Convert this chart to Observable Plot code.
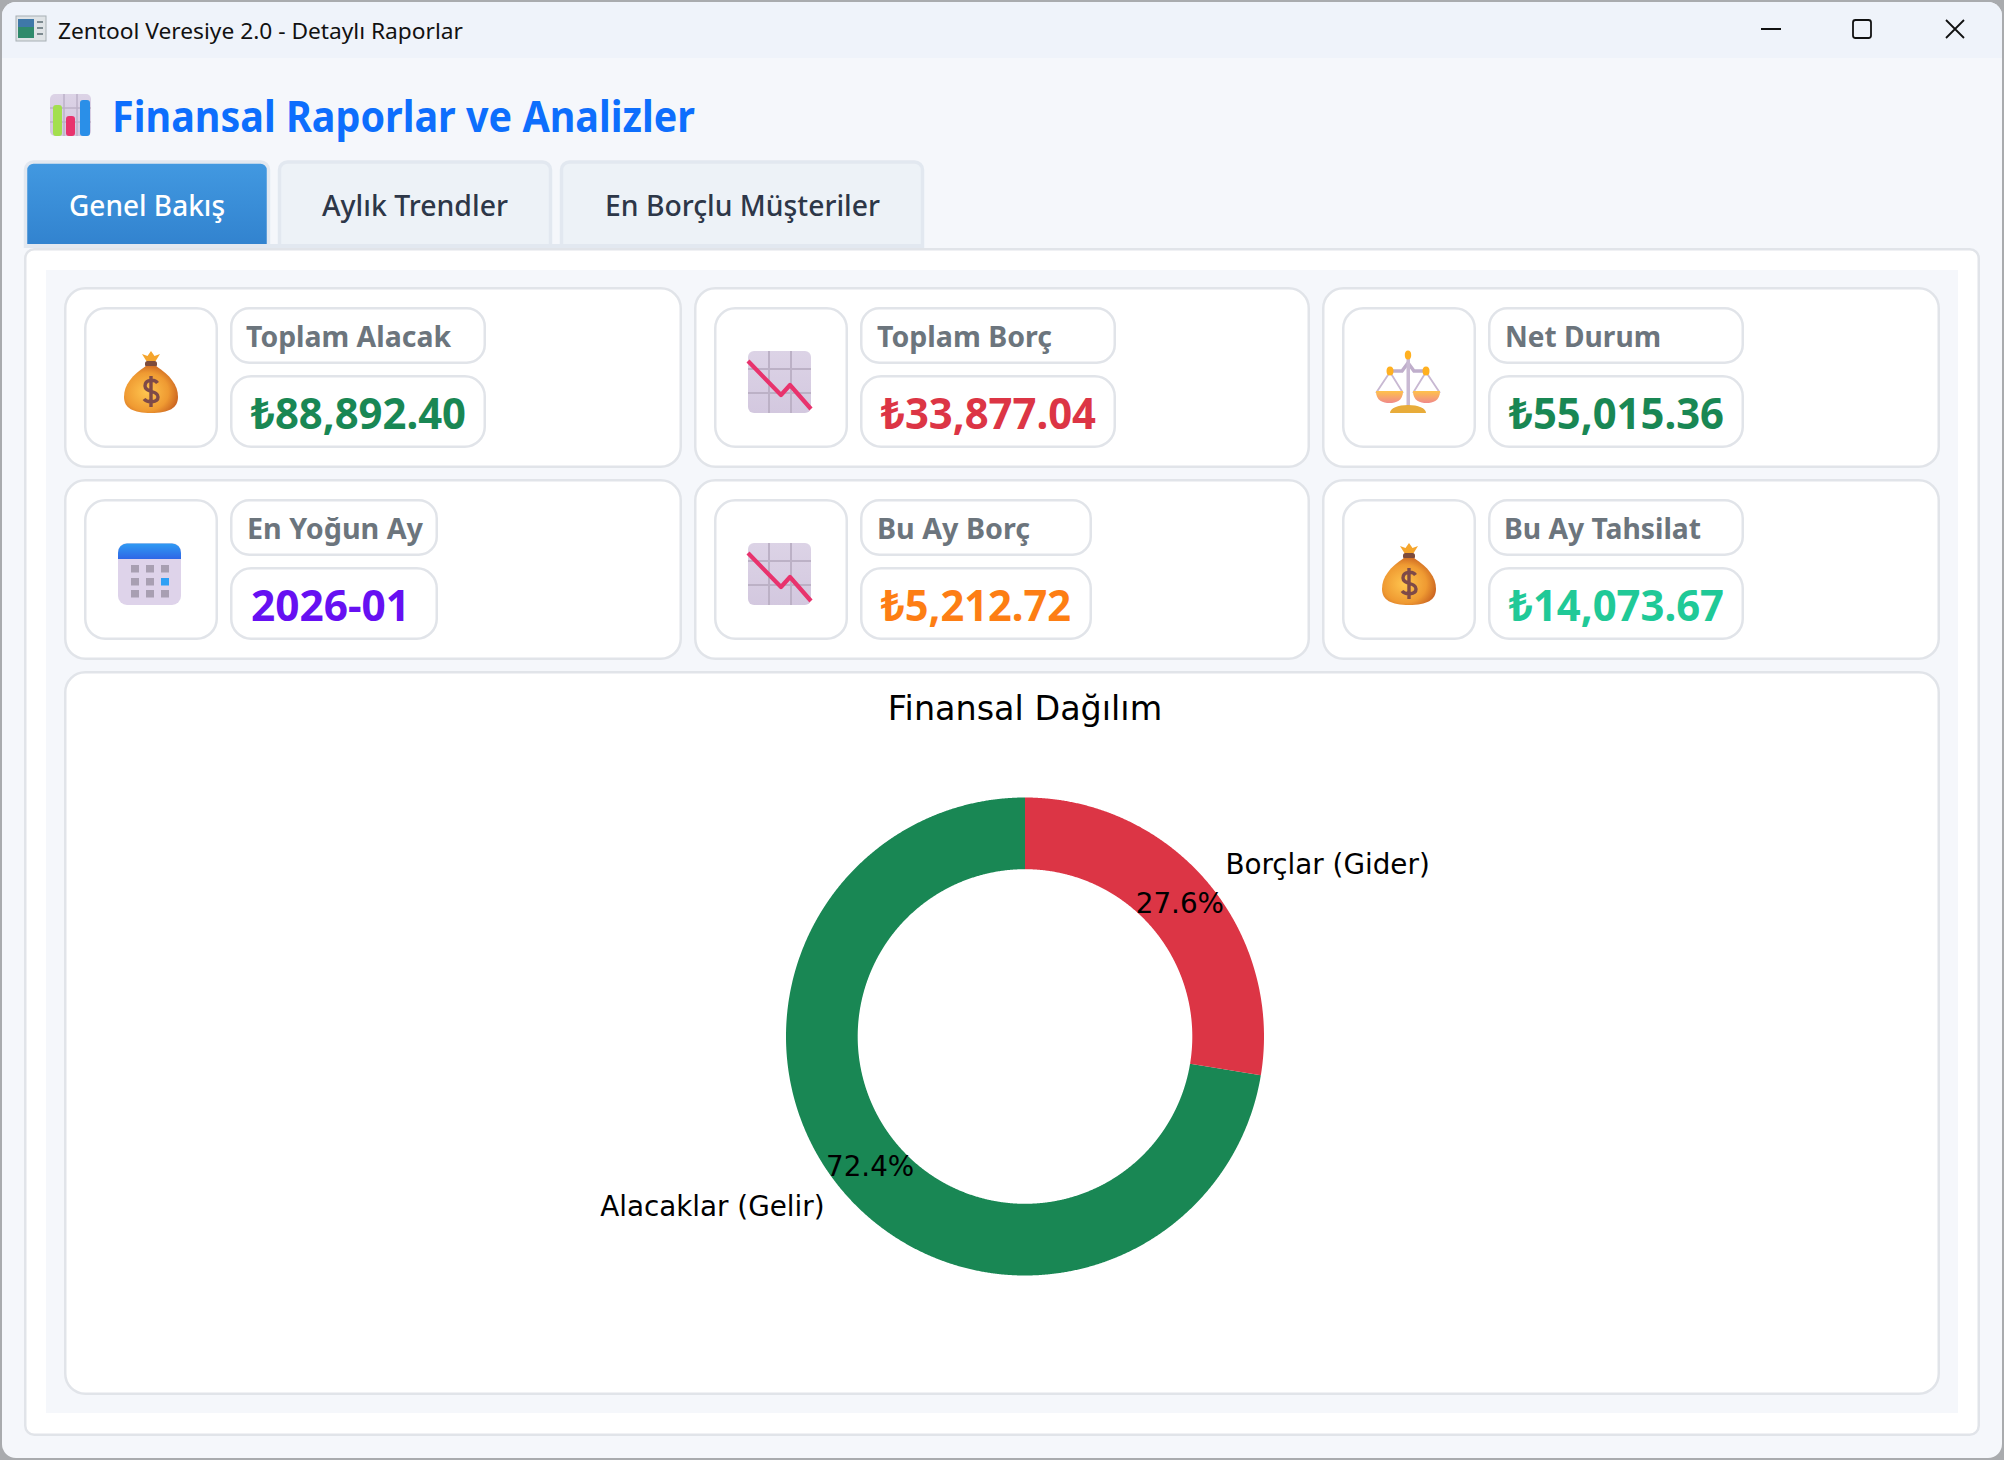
<!DOCTYPE html>
<html lang="tr">
<head>
<meta charset="utf-8">
<title>Zentool Veresiye 2.0 - Detaylı Raporlar</title>
<script src="https://cdn.jsdelivr.net/npm/d3@7"></script>
<script src="https://cdn.jsdelivr.net/npm/@observablehq/plot@0.6"></script>
<style>
html,body{margin:0;padding:0;width:2004px;height:1460px;overflow:hidden;background:#a9abae}
#page{position:absolute;left:0;top:0;width:2004px;height:1460px}
#chart{position:absolute;left:65px;top:672px}
#chart svg{display:block;background:transparent;max-width:none}
#page text{font-family:"Noto Sans",sans-serif}
#chart text{font-family:"DejaVu Sans",sans-serif}
</style>
</head>
<body>
<div id="page"></div>
<div id="chart"></div>
<script>
// ---- data ----
const categories = ["Alacaklar (Gelir)", "Borçlar (Gider)"];
const amounts = [88892.40, 33877.04];
const sliceColors = ["#198754", "#dc3545"];
const chartTitle = "Finansal Dağılım";
const cardLabels = ["Toplam Alacak", "Toplam Borç", "Net Durum", "En Yoğun Ay", "Bu Ay Borç", "Bu Ay Tahsilat"];
const cardValues = ["₺88,892.40", "₺33,877.04", "₺55,015.36", "2026-01", "₺5,212.72", "₺14,073.67"];
const cardColors = ["#198754", "#dc3545", "#198754", "#6610f2", "#fd7e14", "#20c997"];
const cardIcons = ["bag", "down", "scales", "calendar", "down", "bag"];
const tabLabels = ["Genel Bakış", "Aylık Trendler", "En Borçlu Müşteriler"];
const windowTitle = "Zentool Veresiye 2.0 - Detaylı Raporlar";
const pageTitle = "Finansal Raporlar ve Analizler";

// ---- page chrome ----
const svg = d3.select("#page").append("svg").attr("width", 2004).attr("height", 1460).attr("viewBox", "0 0 2004 1460");
const defs = svg.append("defs");
function grad(id, stops, radial) {
  const g = defs.append(radial ? "radialGradient" : "linearGradient").attr("id", id);
  if (radial) g.attr("cx", "42%").attr("cy", "55%").attr("r", "62%");
  else g.attr("x1", 0).attr("y1", 0).attr("x2", 0).attr("y2", 1);
  stops.forEach(([o, c]) => g.append("stop").attr("offset", o).attr("stop-color", c));
}
grad("tabActive", [[0, "#4299e1"], [1, "#3182ce"]]);
grad("bagFill", [[0, "#ffc64f"], [0.65, "#ef9a32"], [1, "#c8601f"]], true);
grad("lav", [[0, "#dcd3e6"], [1, "#d3c8df"]]);
grad("calTop", [[0, "#2f9bf3"], [1, "#2f66e6"]]);
grad("pan", [[0, "#ffc24a"], [1, "#f08a8a"]]);
defs.append("clipPath").attr("id", "win").append("rect").attr("x", 2).attr("y", 2).attr("width", 2000).attr("height", 1456).attr("rx", 14);

function box(x0, y0, x1, y1, r, fill, stroke, sw) {
  const s = sw || 0;
  return root.append("rect").attr("x", x0 + s / 2).attr("y", y0 + s / 2).attr("width", x1 - x0 - s).attr("height", y1 - y0 - s)
    .attr("rx", r).attr("fill", fill).attr("stroke", stroke || "none").attr("stroke-width", s);
}
function label(str, x0, x1, base, size, weight, color) {
  return root.append("text").attr("x", x0).attr("y", base).attr("font-size", size).attr("font-weight", weight)
    .attr("fill", color).attr("textLength", x1 - x0).attr("lengthAdjust", "spacingAndGlyphs").text(str);
}
const root = svg.append("g").attr("clip-path", "url(#win)");
const border = "#e1e4e9", bg = "#f5f7fb";

box(0, 0, 2004, 1460, 0, bg);
box(0, 0, 2004, 58, 0, "#eff3fa");

// window title bar
(function () {
  const g = root.append("g").attr("transform", "translate(16,16)");
  g.append("rect").attr("width", 30).attr("height", 25).attr("fill", "#dfe3e6").attr("stroke", "#a8b0b4");
  g.append("rect").attr("x", 2).attr("y", 3).attr("width", 16).attr("height", 19).attr("fill", "#2f8a6b");
  g.append("rect").attr("x", 2).attr("y", 3).attr("width", 16).attr("height", 8).attr("fill", "#3f78a8");
  g.append("rect").attr("x", 21).attr("y", 5).attr("width", 6).attr("height", 2).attr("fill", "#7d8a90");
  g.append("rect").attr("x", 21).attr("y", 11).attr("width", 6).attr("height", 2).attr("fill", "#7d8a90");
  g.append("rect").attr("x", 21).attr("y", 17).attr("width", 6).attr("height", 2).attr("fill", "#7d8a90");
})();
label(windowTitle, 58, 463, 39, 22, 400, "#111");
const ctl = root.append("g").attr("stroke", "#111").attr("stroke-width", 1.8).attr("fill", "none");
ctl.append("path").attr("d", "M1761 29H1781");
ctl.append("rect").attr("x", 1853).attr("y", 20).attr("width", 18).attr("height", 18).attr("rx", 2.5);
ctl.append("path").attr("d", "M1946 20L1964 38M1964 20L1946 38");

// header
(function () {
  const g = root.append("g").attr("transform", "translate(50,94)");
  g.append("rect").attr("width", 41).attr("height", 42).attr("rx", 5).attr("fill", "url(#lav)");
  g.append("path").attr("d", "M14 0V42M27 0V42M0 14H41M0 28H41").attr("stroke", "#bdb2c8").attr("stroke-width", 1.5);
  g.append("rect").attr("x", 3).attr("y", 11).attr("width", 9).attr("height", 31).attr("rx", 3).attr("fill", "#a3df4e");
  g.append("rect").attr("x", 16).attr("y", 22).attr("width", 9).attr("height", 20).attr("rx", 3).attr("fill", "#e8336d");
  g.append("rect").attr("x", 30).attr("y", 6).attr("width", 10).attr("height", 36).attr("rx", 3).attr("fill", "#2a8fe8");
})();
label(pageTitle, 112, 695, 131.5, 43, 700, "#0d6efd");

// tabs
function tab(x0, x1, fill) {
  root.append("path").attr("d", `M${x0 + 1.5} 248V170a8 8 0 0 1 8-8H${x1 - 9.5}a8 8 0 0 1 8 8V248`)
    .attr("fill", fill).attr("stroke", "#e2e8f0").attr("stroke-width", 3.5);
}
tab(24, 270, "url(#tabActive)");
tab(278, 552, "#edf2f7");
tab(560, 924, "#edf2f7");
box(24, 244, 924, 248, 0, "#e2e8f0");
label(tabLabels[0], 69, 225, 216, 29, 550, "#ffffff");
label(tabLabels[1], 322, 508, 216, 29, 550, "#2d3748");
label(tabLabels[2], 605, 880, 216, 29, 550, "#2d3748");

// content panels
box(24, 248, 1980, 1436, 9, "#ffffff", border, 2.5);
box(46, 270, 1958, 1413, 0, bg);

// icons
function icon(name, x, y) {
  const g = root.append("g").attr("transform", `translate(${x},${y})`);
  if (name === "bag") {
    g.attr("transform", `translate(${x + 8},${y})`);
    g.append("path").attr("d", "M23 11 L18 3 L23.5 5 L27 0 L30.5 5 L36 3 L31 11Z").attr("fill", "#f5a52c");
    g.append("rect").attr("x", 21).attr("y", 10).attr("width", 12).attr("height", 6).attr("rx", 2.5).attr("fill", "#7c4b3c");
    g.append("path").attr("d", "M22 15C8 24 0 34 0 46C0 57 9 62 27 62C45 62 54 57 54 46C54 34 46 24 32 15Z").attr("fill", "url(#bagFill)");
    g.append("path").attr("d", "M33.5 32C31 28 21 28 21 35C21 42 34 39 34 46C34 52 23 52 20 48M27 25V56").attr("fill", "none").attr("stroke", "#7e4a48").attr("stroke-width", 3.4);
  } else if (name === "down") {
    g.append("rect").attr("width", 63).attr("height", 62).attr("rx", 6).attr("fill", "url(#lav)");
    g.append("path").attr("d", "M21 0V62M43 0V62M0 18H63M0 42H63").attr("stroke", "#bcb1c6").attr("stroke-width", 2);
    g.append("path").attr("d", "M0 10L33 44L42 34L63 58").attr("fill", "none").attr("stroke", "#e8336d").attr("stroke-width", 4.2).attr("stroke-linejoin", "round");
  } else if (name === "scales") {
    g.append("path").attr("d", "M14 21L0 42M14 21L27 42M50 21L37 42M50 21L64 42").attr("fill", "none").attr("stroke", "#c8b8d2").attr("stroke-width", 1.8);
    g.append("path").attr("d", "M14 20H26L32 12L38 20H50").attr("fill", "none").attr("stroke", "#bfaecb").attr("stroke-width", 3.5);
    g.append("rect").attr("x", 30.5).attr("y", 4).attr("width", 3.5).attr("height", 52).attr("fill", "#c9bad3");
    g.append("path").attr("d", "M0 40H27C27 50 20 52 13.5 52C7 52 0 50 0 40Z").attr("fill", "url(#pan)");
    g.append("path").attr("d", "M37 40H64C64 50 57 52 50.5 52C44 52 37 50 37 40Z").attr("fill", "url(#pan)");
    g.append("path").attr("d", "M14 62C14 57 22 54 32 54C42 54 50 57 50 62Z").attr("fill", "#e8ac3a");
    [[32, 4, 3.2, 4.5], [14, 20, 3.5, 4.5], [50, 20, 3.5, 4.5]].forEach(([cx, cy, rx, ry]) =>
      g.append("ellipse").attr("cx", cx).attr("cy", cy).attr("rx", rx).attr("ry", ry).attr("fill", "#ffb020"));
  } else {
    g.append("rect").attr("width", 63).attr("height", 62).attr("rx", 9).attr("fill", "#ded3ea");
    g.append("path").attr("d", "M0 16V10a9 9 0 0 1 9-9.5H54a9 9 0 0 1 9 9.5V16Z").attr("fill", "url(#calTop)");
    [13, 28, 43].forEach((sx, c) => [22, 35, 47].forEach((sy, r) =>
      g.append("rect").attr("x", sx).attr("y", sy).attr("width", 8).attr("height", 7.5)
        .attr("fill", r === 1 && c === 2 ? "#2ea0f5" : "#a89fb2")));
  }
}

// stat cards: bounds in page pixels
const rowY = [288, 480];
const cardX = [[64, 682], [694, 1310], [1322, 1940]];
const boxRight = [[486, 1116, 1744], [438, 1092, 1744]];
const labelSpan = [[246, 451], [877, 1052], [1505, 1661], [247, 423], [877, 1030], [1504, 1701]];
const valueSpan = [[251, 466], [881, 1096], [1509, 1724], [251, 410], [881, 1071], [1509, 1724]];
cardLabels.forEach((name, i) => {
  const row = Math.floor(i / 3), col = i % 3, y = rowY[row], [x0, x1] = cardX[col];
  box(x0, y - 1, x1, y + 180, 20, "#ffffff", border, 2.5);
  box(x0 + 20, y + 19, x0 + 154, y + 160, 20, "#ffffff", border, 2.5);
  box(x0 + 166, y + 19, boxRight[row][col], y + 76, 18, "#ffffff", border, 2.5);
  box(x0 + 166, y + 87, boxRight[row][col], y + 160, 20, "#ffffff", border, 2.5);
  icon(cardIcons[i], x0 + 54 + (cardIcons[i] === "bag" ? -2 : 0), y + 63);
  label(name, labelSpan[i][0], labelSpan[i][1], y + 59, 28.5, 700, "#6c757d");
  label(cardValues[i], valueSpan[i][0], valueSpan[i][1], y + 141, 43, 700, cardColors[i]);
});
box(64, 671, 1940, 1395, 20, "#ffffff", border, 2.5);

// ---- the donut, drawn by Plot ----
const pie = d3.pie().sort(null).startAngle(0).endAngle(-2 * Math.PI)(amounts);
const total = d3.sum(amounts);
const inner = 0.7, step = Math.PI / 720;
const ring = pie.flatMap((s, i) => {
  const n = Math.ceil(Math.abs(s.endAngle - s.startAngle) / step);
  const along = d3.range(n + 1).map(k => s.startAngle + (s.endAngle - s.startAngle) * k / n);
  return [
    ...along.map(a => ({ slice: categories[i], x: Math.sin(a), y: Math.cos(a) })),
    ...along.reverse().map(a => ({ slice: categories[i], x: inner * Math.sin(a), y: inner * Math.cos(a) }))
  ];
});
const notes = pie.map((s, i) => {
  const mid = (s.startAngle + s.endAngle) / 2;
  return {
    name: categories[i],
    pct: (100 * amounts[i] / total).toFixed(1) + "%",
    sx: Math.sin(mid), cy: Math.cos(mid)
  };
});
const cx = 959.5, cy = 364, R = 239;
const chart = Plot.plot({
  width: 1874, height: 723, margin: 0,
  style: { fontFamily: "'DejaVu Sans', sans-serif", background: "transparent", color: "#000" },
  x: { domain: [-1, 1], range: [cx - R, cx + R], axis: null },
  y: { domain: [-1, 1], range: [cy + R, cy - R], axis: null },
  color: { domain: categories, range: sliceColors },
  marks: [
    Plot.line(ring, { x: "x", y: "y", z: "slice", fill: "slice", stroke: "none" }),
    Plot.text(notes.filter(d => d.sx < 0), { x: d => d.sx * 1.1, y: d => d.cy * 1.1, text: "name", textAnchor: "end", fontSize: 27.8, fill: "#000" }),
    Plot.text(notes.filter(d => d.sx >= 0), { x: d => d.sx * 1.1, y: d => d.cy * 1.1, dy: -1, text: "name", textAnchor: "start", fontSize: 27.8, fill: "#000" }),
    Plot.text(notes, { x: d => d.sx * 0.85, y: d => d.cy * 0.85, dy: -1, text: "pct", fontSize: 27.8, fill: "#000" }),
    Plot.text([chartTitle], { x: [0], frameAnchor: "top", dy: 24, fontSize: 33.4, fill: "#000", text: d => d })
  ]
});
document.getElementById("chart").appendChild(chart);
</script>
</body>
</html>
